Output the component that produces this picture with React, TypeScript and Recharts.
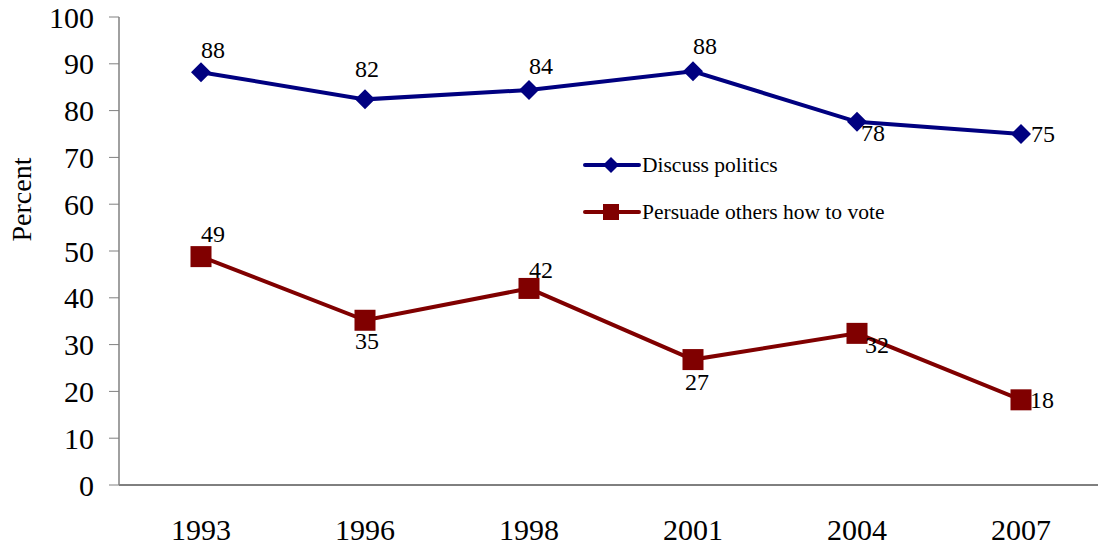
import React from 'react';
import { LineChart, Line, XAxis, YAxis, LabelList } from 'recharts';

const years = ['1993', '1996', '1998', '2001', '2004', '2007'];
const discussPolitics = [88.2, 82.4, 84.4, 88.4, 77.6, 75.0];
const persuadeOthers = [48.8, 35.2, 42.0, 26.8, 32.4, 18.2];
const yTicks = [0, 10, 20, 30, 40, 50, 60, 70, 80, 90, 100];
const categoryEdges = [0, 1, 2, 3, 4, 5, 6];

const data = years.map((year, i) => ({
  year,
  discuss: discussPolitics[i],
  persuade: persuadeOthers[i],
}));

// where each value label sits relative to its marker
const discussLabelOffsets = [[12, -22], [2, -30], [12, -24], [12, -25], [16, 11], [22, 0]];
const persuadeLabelOffsets = [[12, -23], [2, 21], [12, -18], [4, 22], [20, 12], [21, 0]];

const NAVY = '#000080';
const MAROON = '#800000';
const FONT = "'Liberation Serif', 'Times New Roman', serif";

const Diamond = (props: any) => {
  const { cx, cy } = props;
  if (cx == null || cy == null) return null;
  const r = 10;
  return <polygon points={`${cx},${cy - r} ${cx + r},${cy} ${cx},${cy + r} ${cx - r},${cy}`} fill={NAVY} />;
};

const Square = (props: any) => {
  const { cx, cy } = props;
  if (cx == null || cy == null) return null;
  const r = 10.5;
  return <rect x={cx - r} y={cy - r} width={r * 2} height={r * 2} fill={MAROON} />;
};

const makeLabel = (offsets: number[][]) => (props: any) => {
  const { x, y, value, index } = props;
  const [dx, dy] = offsets[index] || [0, -20];
  return (
    <text x={x + dx} y={y + dy} textAnchor="middle" dominantBaseline="central" style={{ fontSize: 24, fontFamily: FONT }} fill="#000">
      {Math.round(value)}
    </text>
  );
};

const PercentLabel = (props: any) => {
  const { viewBox } = props;
  const cx = 14;
  const cy = viewBox.y + viewBox.height * 0.39;
  return (
    <text x={cx} y={cy} transform={`rotate(-90 ${cx} ${cy})`} textAnchor="middle" dominantBaseline="central" style={{ fontSize: 28, fontFamily: FONT }} fill="#000">
      Percent
    </text>
  );
};

const LegendBox = () => (
  <div style={{ position: 'absolute', left: 575, top: 145, fontFamily: FONT, fontSize: 21.5, color: '#000' }}>
    <div style={{ display: 'flex', alignItems: 'center', height: 24, marginBottom: 23 }}>
      <svg width={58} height={22}>
        <line x1={2} y1={11} x2={56} y2={11} stroke={NAVY} strokeWidth={4} strokeLinecap="round" />
        <polygon points="28,3 36,11 28,19 20,11" fill={NAVY} />
      </svg>
      <span style={{ marginLeft: 1 }}>Discuss politics</span>
    </div>
    <div style={{ display: 'flex', alignItems: 'center', height: 24 }}>
      <svg width={58} height={22}>
        <line x1={2} y1={11} x2={56} y2={11} stroke={MAROON} strokeWidth={4} strokeLinecap="round" />
        <rect x={20} y={3} width={16} height={16} fill={MAROON} />
      </svg>
      <span style={{ marginLeft: 1 }}>Persuade others how to vote</span>
    </div>
  </div>
);

const tickStyle = { fontSize: 30, fontFamily: FONT, fill: '#000', style: { fontFamily: FONT } };

export default function App() {
  return (
    <div style={{ position: 'relative', width: 1098, height: 538, background: '#fff', fontFamily: FONT }}>
      <LineChart width={1098} height={538} data={data} margin={{ top: 9, right: 3, bottom: 0, left: 0 }} style={{ fontFamily: FONT }}>
        <XAxis
          type="number"
          domain={[0, 6]}
          ticks={categoryEdges}
          interval={0}
          height={9}
          tickSize={9}
          axisLine={{ stroke: '#000', strokeWidth: 1 }}
          tickLine={{ stroke: '#000' }}
          tick={false}
        />
        <XAxis
          xAxisId="years"
          dataKey="year"
          height={52}
          padding={{ left: 82, right: 82 }}
          tickLine={false}
          axisLine={false}
          tickSize={9}
          tickMargin={16}
          interval={0}
          tick={tickStyle}
        />
        <YAxis
          width={111}
          domain={[0, 100]}
          ticks={yTicks}
          interval={0}
          tickSize={10}
          tickMargin={15}
          axisLine={{ stroke: '#808080', strokeWidth: 1.5 }}
          tickLine={{ stroke: '#808080' }}
          tick={tickStyle}
          label={<PercentLabel />}
        />
        <Line
          xAxisId="years"
          type="linear"
          dataKey="discuss"
          name="Discuss politics"
          stroke={NAVY}
          strokeWidth={4}
          dot={<Diamond />}
          activeDot={false}
          isAnimationActive={false}
        >
          <LabelList dataKey="discuss" content={makeLabel(discussLabelOffsets)} />
        </Line>
        <Line
          xAxisId="years"
          type="linear"
          dataKey="persuade"
          name="Persuade others how to vote"
          stroke={MAROON}
          strokeWidth={4}
          dot={<Square />}
          activeDot={false}
          isAnimationActive={false}
        >
          <LabelList dataKey="persuade" content={makeLabel(persuadeLabelOffsets)} />
        </Line>
      </LineChart>
      <LegendBox />
    </div>
  );
}
